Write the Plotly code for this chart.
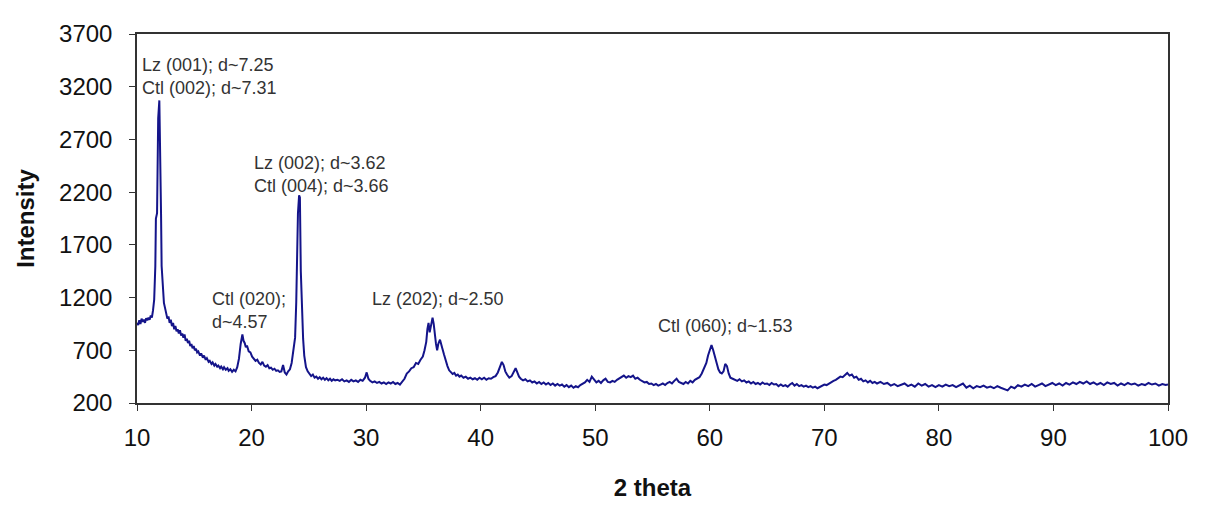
import plotly.graph_objects as go

two_theta = [
    10.0, 10.1, 10.2, 10.3, 10.4, 10.5, 10.6, 10.7, 10.8, 10.9, 11.0, 11.1, 11.2, 11.3, 11.4, 11.5, 11.6, 11.65, 11.75, 11.85,
    11.95, 12.0, 12.05, 12.1, 12.15, 12.25, 12.35, 12.45, 12.55, 12.65, 12.75, 12.85, 12.95, 13.05, 13.15, 13.25, 13.35, 13.45, 13.55, 13.65,
    13.75, 13.85, 13.95, 14.05, 14.15, 14.25, 14.35, 14.45, 14.55, 14.65, 14.75, 14.85, 14.95, 15.05, 15.15, 15.25, 15.35, 15.5, 15.6, 15.75,
    15.85, 16.0, 16.1, 16.25, 16.35, 16.5, 16.6, 16.75, 16.85, 17.0, 17.1, 17.25, 17.35, 17.5, 17.6, 17.75, 17.9, 18.0, 18.15, 18.3,
    18.45, 18.6, 18.75, 18.9, 19.05, 19.2, 19.3, 19.4, 19.5, 19.6, 19.75, 19.9, 20.05, 20.2, 20.35, 20.5, 20.65, 20.8, 20.95, 21.1,
    21.25, 21.4, 21.55, 21.7, 21.85, 22.0, 22.15, 22.3, 22.45, 22.6, 22.75, 22.9, 23.05, 23.2, 23.35, 23.5, 23.65, 23.8, 23.9, 23.95,
    24.05, 24.15, 24.22, 24.3, 24.4, 24.5, 24.6, 24.75, 24.9, 25.05, 25.2, 25.35, 25.5, 25.65, 25.8, 25.95, 26.1, 26.25, 26.4, 26.55,
    26.7, 26.85, 27.0, 27.15, 27.3, 27.5, 27.7, 27.9, 28.1, 28.3, 28.5, 28.7, 28.9, 29.1, 29.3, 29.5, 29.7, 29.9, 30.05, 30.2,
    30.35, 30.55, 30.75, 30.95, 31.15, 31.35, 31.55, 31.75, 31.95, 32.15, 32.35, 32.55, 32.75, 32.95, 33.15, 33.35, 33.55, 33.75, 33.95, 34.15,
    34.35, 34.55, 34.75, 34.95, 35.1, 35.25, 35.35, 35.45, 35.55, 35.65, 35.8, 35.9, 36.0, 36.1, 36.2, 36.3, 36.45, 36.55, 36.65, 36.8,
    36.95, 37.1, 37.25, 37.4, 37.55, 37.7, 37.85, 38.0, 38.15, 38.3, 38.5, 38.7, 38.9, 39.1, 39.3, 39.5, 39.7, 39.9, 40.1, 40.3,
    40.5, 40.7, 40.9, 41.1, 41.3, 41.5, 41.7, 41.85, 42.0, 42.15, 42.3, 42.5, 42.7, 42.9, 43.05, 43.2, 43.35, 43.5, 43.7, 43.9,
    44.1, 44.3, 44.5, 44.7, 44.9, 45.1, 45.3, 45.5, 45.7, 45.9, 46.1, 46.3, 46.5, 46.7, 46.9, 47.1, 47.3, 47.5, 47.7, 47.9,
    48.1, 48.3, 48.5, 48.7, 48.9, 49.1, 49.3, 49.5, 49.7, 49.9, 50.1, 50.3, 50.5, 50.7, 50.9, 51.1, 51.3, 51.5, 51.7, 51.9,
    52.1, 52.3, 52.5, 52.7, 52.9, 53.1, 53.3, 53.5, 53.7, 53.9, 54.1, 54.3, 54.5, 54.7, 54.9, 55.1, 55.3, 55.5, 55.7, 55.9,
    56.1, 56.3, 56.5, 56.7, 56.9, 57.1, 57.3, 57.5, 57.7, 57.9, 58.1, 58.3, 58.5, 58.7, 58.9, 59.1, 59.3, 59.5, 59.7, 59.85,
    60.0, 60.15, 60.3, 60.45, 60.6, 60.75, 60.9, 61.05, 61.2, 61.35, 61.5, 61.65, 61.8, 62.0, 62.2, 62.4, 62.6, 62.8, 63.0, 63.2,
    63.4, 63.6, 63.8, 64.0, 64.2, 64.4, 64.6, 64.8, 65.0, 65.2, 65.4, 65.6, 65.8, 66.0, 66.2, 66.4, 66.6, 66.8, 67.0, 67.2,
    67.4, 67.6, 67.8, 68.0, 68.2, 68.4, 68.6, 68.8, 69.0, 69.2, 69.4, 69.6, 69.8, 70.0, 70.2, 70.4, 70.6, 70.8, 71.0, 71.2,
    71.4, 71.6, 71.8, 72.0, 72.2, 72.4, 72.6, 72.8, 73.0, 73.2, 73.4, 73.6, 73.8, 74.0, 74.2, 74.4, 74.6, 74.9, 75.2, 75.5,
    75.8, 76.1, 76.4, 76.7, 77.0, 77.3, 77.6, 77.9, 78.2, 78.5, 78.8, 79.1, 79.4, 79.7, 80.0, 80.3, 80.6, 80.9, 81.2, 81.5,
    81.8, 82.1, 82.4, 82.7, 83.0, 83.3, 83.6, 83.9, 84.2, 84.5, 84.8, 85.1, 85.4, 85.7, 86.0, 86.3, 86.6, 86.9, 87.2, 87.5,
    87.8, 88.1, 88.4, 88.7, 89.0, 89.3, 89.6, 89.9, 90.2, 90.5, 90.8, 91.1, 91.4, 91.7, 92.0, 92.3, 92.6, 92.9, 93.2, 93.5,
    93.8, 94.1, 94.4, 94.7, 95.0, 95.3, 95.6, 95.9, 96.2, 96.5, 96.8, 97.1, 97.4, 97.7, 98.0, 98.3, 98.6, 98.9, 99.2, 99.5,
    99.8, 100.0,
]

intensity = [
    960, 940, 985, 950, 1000, 970, 990, 960, 1005, 985, 1010, 990, 1030, 1010, 1080, 1180, 1500, 1950, 2000, 2900,
    3070, 2800, 2500, 1980, 1500, 1250, 1150, 1100, 1050, 1000, 1020, 960, 990, 930, 960, 900, 930, 880, 900, 860,
    890, 840, 860, 820, 850, 790, 810, 770, 790, 740, 760, 720, 740, 700, 715, 680, 690, 650, 670, 630,
    650, 610, 625, 590, 600, 570, 585, 555, 570, 545, 555, 530, 545, 520, 540, 515, 530, 505, 520, 495,
    515, 500, 540, 620, 760, 850, 790, 770, 730, 745, 690, 680, 640, 620, 600, 610, 580, 565, 590, 555,
    545, 560, 530, 535, 515, 525, 505, 510, 495, 500, 560, 490, 470, 500, 520, 580, 680, 820, 1150, 1420,
    2000, 2170, 2150, 1450, 1100, 810, 650, 540, 500, 480, 455, 470, 440, 450, 430, 445, 425, 440, 420, 435,
    415, 430, 410, 425, 415, 420, 410, 425, 405, 415, 400, 420, 405, 415, 400, 420, 410, 440, 490, 430,
    410, 395, 405, 390, 400, 385, 395, 380, 395, 385, 400, 380, 390, 375, 400, 430, 480, 500, 530, 540,
    580, 570, 610, 640, 700, 780, 900, 960, 870, 920, 1010, 950, 840, 760, 700, 760, 800, 770, 720, 660,
    590, 550, 510, 495, 475, 485, 460, 470, 450, 460, 440, 450, 430, 440, 425, 435, 420, 440, 425, 440,
    420, 435, 430, 445, 455, 490, 550, 590, 560, 500, 470, 440, 455, 500, 530, 490, 450, 430, 415, 425,
    405, 415, 395, 405, 385, 400, 380, 395, 375, 390, 370, 385, 365, 380, 365, 375, 355, 370, 350, 365,
    345, 360, 350, 370, 380, 395, 420, 400, 450, 425, 395, 410, 390, 415, 430, 400, 395, 410, 400, 420,
    435, 445, 460, 440, 455, 445, 460, 430, 440, 420, 410, 395, 400, 380, 385, 370, 380, 365, 375, 385,
    370, 390, 400, 385, 410, 430, 400, 390, 380, 400, 385, 410, 395, 420, 430, 445, 480, 530, 580, 650,
    700, 750, 700, 650, 580, 520, 490, 480, 500, 570, 550, 480, 440, 430, 420, 410, 425, 405, 415, 395,
    405, 385, 400, 380, 390, 375, 395, 380, 385, 370, 390, 375, 380, 360, 375, 360, 370, 355, 375, 390,
    365, 380, 360, 370, 355, 365, 350, 360, 345, 355, 340, 350, 360, 375, 370, 385, 395, 410, 420, 435,
    450, 445, 470, 485, 460, 470, 440, 450, 420, 430, 405, 415, 395, 410, 390, 400, 385, 400, 380, 390,
    365, 380, 360, 375, 385, 360, 375, 355, 385, 365, 380, 355, 370, 350, 370, 355, 375, 360, 370, 350,
    365, 385, 345, 365, 340, 360, 350, 365, 345, 355, 340, 360, 345, 330, 320, 355, 340, 370, 355, 375,
    360, 380, 355, 370, 385, 360, 375, 390, 370, 385, 365, 390, 375, 395, 380, 400, 385, 405, 380, 395,
    375, 390, 370, 395, 380, 390, 365, 385, 370, 390, 375, 385, 365, 380, 370, 390, 375, 385, 365, 380,
    370, 375,
]

x_ticks = [10, 20, 30, 40, 50, 60, 70, 80, 90, 100]
y_ticks = [200, 700, 1200, 1700, 2200, 2700, 3200, 3700]

labels_text = [
    "Lz (001); d~7.25<br>Ctl (002); d~7.31",
    "Lz (002); d~3.62<br>Ctl (004); d~3.66",
    "Ctl (020);<br>d~4.57",
    "Lz (202); d~2.50",
    "Ctl (060); d~1.53",
]
labels_x = [10.26, 20.04, 16.37, 30.34, 55.3]
labels_y = [3296, 2368, 1073, 1183, 926]

FONT = "Liberation Sans, Arial, sans-serif"

fig = go.Figure()
fig.add_trace(go.Scatter(
    x=two_theta, y=intensity, mode="lines",
    line=dict(color="#14148a", width=2),
    showlegend=False, hoverinfo="skip",
))

for t, xv, yv in zip(labels_text, labels_x, labels_y):
    fig.add_annotation(
        x=xv, y=yv, xref="x", yref="y", text=t, showarrow=False,
        xanchor="left", yanchor="middle", align="left",
        font=dict(family=FONT, size=18, color="#333333"),
    )

fig.update_layout(
    width=1206, height=508,
    margin=dict(l=129, r=46, t=14, b=113),
    paper_bgcolor="white", plot_bgcolor="white",
    font=dict(family=FONT, color="#111111"),
)
fig.update_xaxes(
    range=[10, 100], tickvals=x_ticks, ticktext=[str(v) for v in x_ticks],
    showgrid=False, zeroline=False,
    showline=True, mirror=True, linecolor="#333333", linewidth=1.5,
    ticks="outside", ticklen=6, tickcolor="#333333",
    ticklabelstandoff=6,
    tickfont=dict(family=FONT, size=24, color="#111111"),
    title=dict(text="<b>2 theta</b>", font=dict(family=FONT, size=24, color="#111111"), standoff=30),
)
fig.update_yaxes(
    range=[200, 3700], tickvals=y_ticks, ticktext=[str(v) for v in y_ticks],
    showgrid=False, zeroline=False,
    showline=True, mirror=True, linecolor="#333333", linewidth=1.5,
    ticks="outside", ticklen=6, tickcolor="#333333",
    ticklabelstandoff=12,
    tickfont=dict(family=FONT, size=24, color="#111111"),
    title=dict(text="<b>Intensity</b>", font=dict(family=FONT, size=24, color="#111111"), standoff=18),
)

fig.write_html("out.html")
